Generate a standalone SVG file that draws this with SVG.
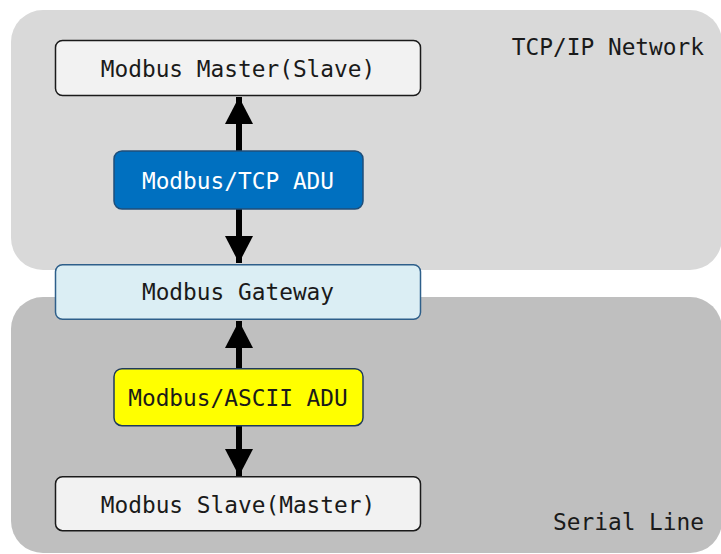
<svg xmlns="http://www.w3.org/2000/svg" width="721" height="554" viewBox="0 0 721 554">
<style>
.t{font-family:"DejaVu Sans Mono","Liberation Mono",monospace;font-size:22.8px;fill:#1a1a1a;text-anchor:middle}
.box{stroke-width:1.5}
.conn{stroke:#000;stroke-width:6;fill:none}
</style>
<defs>
<marker id="ah" markerWidth="27" markerHeight="28" refX="27" refY="14" viewBox="0 0 27 28" markerUnits="userSpaceOnUse" orient="auto">
<path d="M0,0 L27,14 L0,28 Z" fill="#000"/>
</marker>
</defs>
<g id="tcp-network">
<rect x="11" y="10" width="711" height="260" rx="32" fill="#d9d9d9"/>
<text class="t" x="704" y="55" style="text-anchor:end">TCP/IP Network</text>
</g>
<g id="serial-line">
<rect x="11" y="297" width="711" height="256" rx="32" fill="#bfbfbf"/>
<text class="t" x="704" y="530" style="text-anchor:end">Serial Line</text>
</g>
<g id="connectors">
<line class="conn" x1="239" y1="151" x2="239" y2="97" marker-end="url(#ah)"/>
<line class="conn" x1="239" y1="209" x2="239" y2="263" marker-end="url(#ah)"/>
<line class="conn" x1="239" y1="369" x2="239" y2="321" marker-end="url(#ah)"/>
<line class="conn" x1="239" y1="426" x2="239" y2="476" marker-end="url(#ah)"/>
</g>
<g id="master">
<rect class="box" x="55.5" y="40.5" width="365" height="55" rx="7" fill="#f2f2f2" stroke="#1a1a1a"/>
<text class="t" x="238" y="77">Modbus Master(Slave)</text>
</g>
<g id="tcp-adu">
<rect class="box" x="114" y="151" width="249" height="58" rx="8" fill="#0070c0" stroke="#1f4e79"/>
<text class="t" x="238" y="189" style="fill:#ffffff">Modbus/TCP ADU</text>
</g>
<g id="gateway">
<rect class="box" x="55.5" y="264.7" width="365" height="54.6" rx="7" fill="#dbeef4" stroke="#2e5f8a"/>
<text class="t" x="238" y="300">Modbus Gateway</text>
</g>
<g id="ascii-adu">
<rect class="box" x="114" y="368.7" width="249" height="57" rx="8" fill="#ffff00" stroke="#1f3a5c"/>
<text class="t" x="238" y="405.5">Modbus/ASCII ADU</text>
</g>
<g id="slave">
<rect class="box" x="55.5" y="476.7" width="365" height="54" rx="7" fill="#f2f2f2" stroke="#1a1a1a"/>
<text class="t" x="238" y="512.5">Modbus Slave(Master)</text>
</g>
</svg>
